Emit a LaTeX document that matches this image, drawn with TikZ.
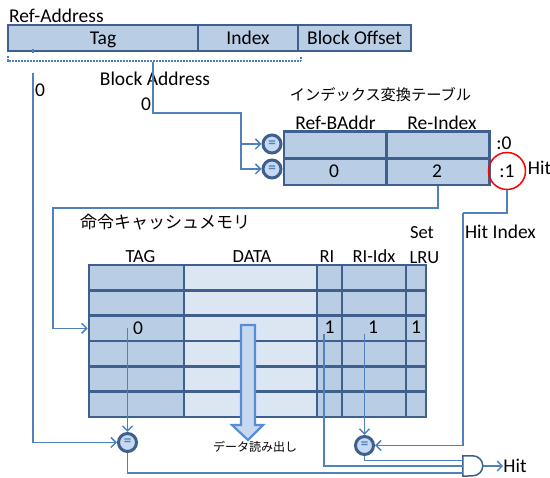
\documentclass[tikz,border=0pt]{standalone}
\usepackage{fontspec}
\setmainfont{Carlito}
\newfontfamily\jpfont{Noto Sans CJK JP}
\usetikzlibrary{arrows.meta}
\definecolor{cellfill}{HTML}{B9CDE5}
\definecolor{datafill}{HTML}{DCE6F2}
\definecolor{frame}{HTML}{3F5F8D}
\definecolor{wire}{HTML}{4F81BD}
\definecolor{eqfill}{HTML}{C6D9F1}
\definecolor{arrowline}{HTML}{558ED5}
\begin{document}
\begin{tikzpicture}[x=1pt,y=-1pt,
  lbl/.style={inner sep=0pt, font=\fontsize{19.5}{22}\selectfont, text height=12.5pt, text depth=0pt},
  hdr/.style={lbl, font=\fontsize{18.5}{22}\selectfont, text height=12pt},
  jp/.style={inner sep=0pt, text height=0.88em, text depth=0.12em},
  field/.style={draw=frame, fill=cellfill, line width=2.6pt, inner sep=0pt, minimum height=26pt,
    font=\fontsize{19.5}{22}\selectfont, text height=12.5pt, text depth=0pt},
  cell/.style={draw=frame, fill=cellfill, line width=2.6pt, inner sep=0pt},
  wireln/.style={draw=wire, line width=1.5pt},
  arr/.style={-{Straight Barb[length=5pt,width=10pt,line width=1.5pt]}},
  eq/.style={circle, draw=frame, fill=eqfill, line width=3pt, minimum size=18pt, inner sep=0pt,
    text=wire, font=\fontsize{15}{15}\selectfont\bfseries}
]
\useasboundingbox (0,0) rectangle (550,478);

% ---------- reference address ----------
\node[lbl, anchor=west] (refaddr) at (9,16) {Ref-Address};
\node[field, minimum width=190pt] (ftag) at (103,38) {Tag};
\node[field, minimum width=100pt] (findex) at (248,38) {Index};
\node[field, minimum width=113pt] (foffset) at (354.5,38) {Block Offset};

% bracket under Tag + Index
\draw[wire, line width=1.2pt, dash pattern=on 0.9pt off 0.6pt] (8,56) -- (8,61) -- (301,61) -- (301,56);
\coordinate (baddr) at (153,62);
\node[lbl] (blockaddr) at (155,79) {Block Address};
\node[lbl] (zeroB) at (146,104) {0};

% ---------- index conversion table ----------
\node[jp, font=\jpfont\fontsize{15.2}{16}\selectfont] (ttitle) at (380.5,97) {インデックス変換テーブル};
\node[lbl] (hrefb) at (335.5,123) {Ref-BAddr};
\node[lbl] (hreidx) at (442,123) {Re-Index};
\node[cell, minimum width=102.7pt, minimum height=26.6pt] (it11) at (335.3,145) {};
\node[cell, minimum width=102.6pt, minimum height=26.6pt] (it12) at (438,145) {};
\node[cell, minimum width=102.7pt, minimum height=26.7pt] (it21) at (335.3,171.7) {};
\node[cell, minimum width=102.6pt, minimum height=26.7pt] (it22) at (438,171.7) {};
\node[lbl] at (334,171) {0};
\node[lbl] at (437,171) {2};
\node[eq] (eq1) at (272,144) {=};
\node[eq] (eq2) at (272,169) {=};
\node[lbl] (sel0) at (504,143) {:0};
\node[lbl, circle, draw=red, line width=1.5pt, minimum size=37pt, text height=12.5pt] (hit1) at (507,171) {:1};
\node[lbl] (hitT) at (539.5,168) {Hit};

% ---------- instruction cache ----------
\node[jp, anchor=west, font=\jpfont\fontsize{17}{18}\selectfont] (ctitle) at (80,225) {命令キャッシュメモリ};
\node[hdr] (htag) at (140.5,257) {TAG};
\node[hdr] (hdata) at (252,257) {DATA};
\node[hdr] (hri) at (327,257) {RI};
\node[hdr] (hriidx) at (374,257) {RI-Idx};
\node[hdr] (hset) at (422,233) {Set};
\node[hdr] (hlru) at (424.5,258) {LRU};

\foreach \r in {1,...,6}{
  \foreach \xa/\xb/\c/\f in {89/184/1/cellfill, 184/317/2/datafill, 317/342/3/cellfill, 342/406/4/cellfill, 406/426/5/cellfill}{
    \node[cell, fill=\f, minimum width=\xb-\xa, minimum height=25.33pt] (m-\r-\c)
      at ({(\xa+\xb)/2}, {265+(\r-0.5)*25.33}) {};
  }
}
\node[lbl] (vtag) at (138,328) {0};
\node[lbl] (vri) at (329.5,327) {1};
\node[lbl] (vriidx) at (373,327) {1};
\node[lbl] (vlru) at (416,327) {1};

% data read-out arrow
\draw[draw=arrowline, fill=eqfill, line width=2.2pt, line join=miter]
  (241,325) -- (255,325) -- (255,425) -- (263,425) -- (248,440) -- (232,425) -- (241,425) -- cycle;
\node[jp, font=\jpfont\fontsize{12}{13}\selectfont] (readout) at (255,448) {データ読み出し};

% comparators and AND gate
\node[eq] (eqA) at (127.5,442.5) {=};
\node[eq] (eqB) at (364.5,445.5) {=};
\node[inner sep=0pt, minimum width=20pt, minimum height=20pt] (gate) at (473,466) {};
\draw[draw=frame, fill=white, line width=1.5pt] (gate.north west) -- ++(10,0)
  arc[start angle=90, end angle=-90, radius=10pt] -- (gate.south west) -- cycle;
\node[lbl] (hitOut) at (515,466) {Hit};

% ---------- wires ----------
\coordinate (tagtick) at (33,49);
\coordinate (tagtickEnd) at (33,53);
\draw[wireln] (tagtick) -- (tagtickEnd);
\coordinate (tagtap) at (33,73);
\node[lbl] (zeroT) at (40,90) {0};
\draw[wireln, arr] (tagtap) |- (eqA.west);

\coordinate (bjoin) at (241,113);
\draw[wireln, arr] (baddr) |- (bjoin) |- (eq2.west);
\draw[wireln, arr] (bjoin) |- (eq1.west);

\coordinate (riloop) at (53,208);
\draw[wireln, arr] (it22.south) |- (riloop) |- (m-3-1.west);

\coordinate (hitloop) at (463,213);
\draw[wireln] (hit1.south) |- (hitloop);
\draw[wireln, arr] (hitloop) |- (eqB.east);
\node[lbl] (hitidx) at (500.5,232) {Hit Index};

\coordinate (tagsrc) at (127.5,328);
\coordinate (risrc) at (324,334);
\coordinate (ridxsrc) at (364.5,334);
\draw[wireln, arr] (tagsrc) -- (eqA.north);
\draw[wireln, arr] (ridxsrc) -- (eqB.north);

\coordinate (gin1) at (463,460.5);
\coordinate (gin2) at (463,466);
\coordinate (gin3) at (463,473);
\draw[wireln] (eqB.south) |- (gin1);
\draw[wireln] (risrc) |- (gin2);
\draw[wireln] (eqA.south) |- (gin3);
\draw[wireln, arr] (gate.east) -- (hitOut.west);
\end{tikzpicture}
\end{document}
